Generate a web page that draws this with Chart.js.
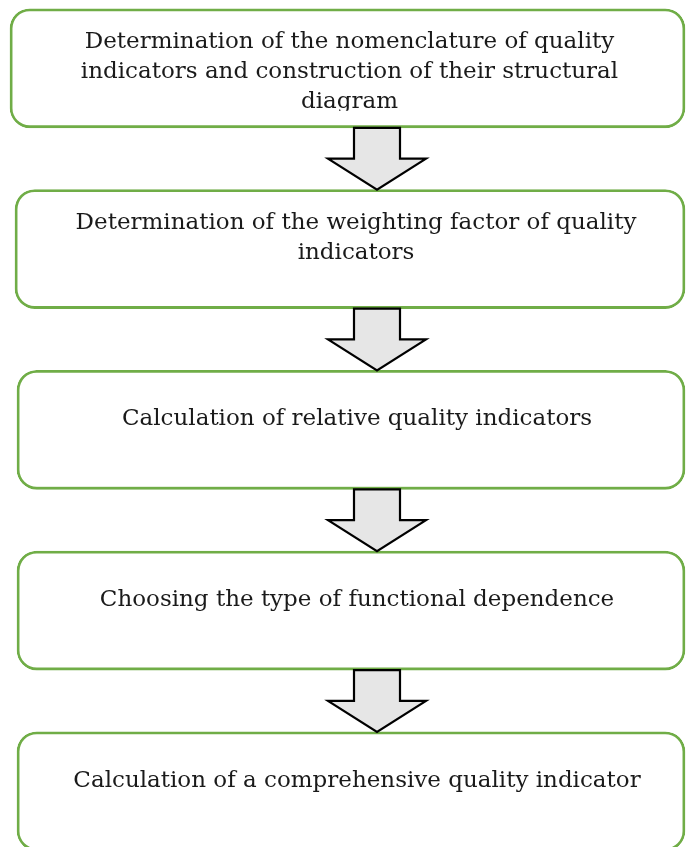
<!DOCTYPE html>
<html><head><meta charset="utf-8">
<script src="https://cdn.jsdelivr.net/npm/chart.js@4"></script>
<style>html,body{margin:0;padding:0;background:#fff;overflow:hidden}canvas{display:block}</style>
</head><body>
<canvas id="c" width="686" height="847"></canvas>
<script>
// ---- data ----
const steps = [
  ["Determination of the nomenclature of quality", "indicators and construction of their structural", "diagram"],
  ["Determination of the weighting factor of quality", "indicators"],
  ["Calculation of relative quality indicators"],
  ["Choosing the type of functional dependence"],
  ["Calculation of a comprehensive quality indicator"]
];
const stepOrder = [0, 1, 2, 3, 4];

// ---- layout / style (not data) ----
const L = {
  boxLeft: [10, 15, 17, 17, 17],
  boxRight: 685,
  boxThickness: 119,
  radius: 20,
  arrowX: 377,
  shaftHalf: 23,
  headHalf: 49,
  font: '23px "DejaVu Serif"',
  lineH: 30,
  padTopMulti: 33,
  padTopSingle: 49,
  clipBottom: 17,
  textShift: [2, 6, 6, 6, 6],
  green: '#70AD47',
  arrowFill: '#E6E6E6'
};

const flowPlugin = {
  id: 'flow',
  afterDatasetsDraw(chart) {
    const ctx = chart.ctx;
    const meta = chart.getDatasetMeta(0);
    const xs = chart.scales.x;
    const els = meta.data;
    const ax = xs.getPixelForValue(L.arrowX);
    const sw = xs.getPixelForValue(L.arrowX + L.shaftHalf) - ax;
    const hw = xs.getPixelForValue(L.arrowX + L.headHalf) - ax;
    for (let i = 0; i < els.length - 1; i++) {
      const a = els[i], b = els[i + 1];
      const y0 = a.y + a.height / 2;
      const y1 = b.y - b.height / 2;
      const ym = (y0 + y1) / 2;
      ctx.save();
      ctx.beginPath();
      ctx.moveTo(ax - sw, y0);
      ctx.lineTo(ax + sw, y0);
      ctx.lineTo(ax + sw, ym);
      ctx.lineTo(ax + hw, ym);
      ctx.lineTo(ax, y1);
      ctx.lineTo(ax - hw, ym);
      ctx.lineTo(ax - sw, ym);
      ctx.closePath();
      ctx.fillStyle = L.arrowFill;
      ctx.fill();
      ctx.lineWidth = 2.2;
      ctx.strokeStyle = '#000';
      ctx.lineJoin = 'miter';
      ctx.stroke();
      ctx.restore();
    }
    els.forEach((el, i) => {
      const lines = steps[stepOrder[i]];
      const top = el.y - el.height / 2;
      const bottom = el.y + el.height / 2;
      const cx = (el.base + el.x) / 2 + L.textShift[i];
      ctx.save();
      ctx.beginPath();
      ctx.rect(el.base, top, el.x - el.base, bottom - top - L.clipBottom);
      ctx.clip();
      ctx.font = L.font;
      ctx.fillStyle = '#1a1a1a';
      ctx.textAlign = 'center';
      ctx.textBaseline = 'middle';
      let y = top + (lines.length > 1 ? L.padTopMulti : L.padTopSingle);
      lines.forEach(t => { ctx.fillText(t, cx, y); y += L.lineH; });
      ctx.restore();
    });
  }
};

new Chart(document.getElementById('c'), {
  type: 'bar',
  data: {
    labels: stepOrder.map(i => steps[i].join(' ')),
    datasets: [{
      data: stepOrder.map((s, i) => ({ y: s, x: [L.boxLeft[i], L.boxRight] })),
      backgroundColor: '#ffffff',
      borderColor: L.green,
      borderWidth: 2.8,
      borderSkipped: false,
      borderRadius: L.radius,
      barThickness: L.boxThickness
    }]
  },
  options: {
    indexAxis: 'y',
    responsive: false,
    animation: false,
    devicePixelRatio: 1,
    layout: { padding: 0 },
    plugins: { legend: { display: false }, tooltip: { enabled: false }, title: { display: false } },
    events: [],
    scales: {
      x: { type: 'linear', min: 0, max: 686, display: false, offset: false },
      y: { type: 'linear', reverse: true, min: -0.378, max: 4.308, display: false, offset: false, grace: 0 }
    }
  },
  plugins: [flowPlugin]
});
</script>
</body></html>
